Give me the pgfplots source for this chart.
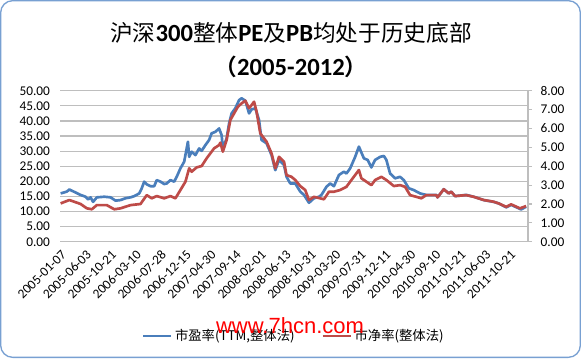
\documentclass[border=0pt]{standalone}
\usepackage{pgfplots}
\usepackage{pgfplotstable}
\pgfplotsset{compat=1.18}
\usepackage{fontspec}
\setmainfont{Carlito}
\newfontfamily\cjk{Noto Sans CJK SC}[BoldFont={Noto Sans CJK SC Bold}]
\newfontfamily\wm{Liberation Sans}
\definecolor{peblue}{RGB}{74,126,187}
\definecolor{pbred}{RGB}{190,75,72}
\definecolor{gridgray}{RGB}{190,190,190}
\definecolor{framec}{RGB}{120,160,210}

\pgfplotstableread{
w pe
0 16.0
5 16.6
7 17.3
16 15.5
20 14.9
22 14.0
24 14.7
26 13.2
29 14.7
35 14.9
40 14.7
44 13.6
48 13.8
52 14.4
56 14.7
59 15.1
63 16.0
65 17.7
67 19.9
69 19.0
72 18.4
75 18.4
77 20.4
80 19.9
83 19.1
85 19.3
88 20.4
91 19.9
93 21.5
96 24.3
99 26.5
102 33.1
103 28.1
105 29.8
108 28.7
111 30.9
113 30.1
116 32.0
119 33.7
121 35.9
124 36.4
127 37.5
129 35.3
130 30.9
133 34.2
135 39.2
137 42.5
140 44.2
143 46.9
145 47.5
148 46.7
151 42.5
153 43.8
156 44.2
159 40.3
161 33.7
165 32.6
169 28.7
172 23.7
175 27.1
179 25.4
181 21.5
184 19.3
188 19.3
192 16.6
195 15.5
199 12.9
203 14.4
207 14.9
209 15.5
213 18.2
216 19.3
219 18.4
223 22.1
227 23.2
229 22.6
232 24.3
236 28.1
239 31.5
243 27.6
246 27.1
249 24.6
252 27.1
256 28.1
259 28.4
261 27.1
264 22.6
268 21.0
272 21.5
275 20.4
279 17.7
283 17.1
288 16.0
293 15.5
301 15.5
302 14.7
307 17.4
311 16.0
313 16.6
316 15.1
325 15.5
331 14.9
339 13.8
347 13.2
351 12.7
357 11.4
361 12.2
369 10.7
373 11.6
}\pedata

\pgfplotstableread{
w pb
0 2.03
7 2.21
16 2.00
21 1.77
25 1.72
29 1.94
37 1.94
43 1.72
48 1.77
56 1.94
64 2.00
69 2.47
73 2.30
77 2.42
83 2.30
88 2.42
92 2.30
96 2.74
100 3.18
103 3.89
105 3.71
109 3.94
113 4.01
117 4.42
123 4.95
127 5.12
128 5.25
130 4.77
133 5.39
136 6.45
139 6.80
142 7.15
145 7.33
148 7.47
151 7.07
153 7.24
155 7.42
157 6.89
160 5.74
165 5.30
169 4.68
172 3.89
175 4.50
179 4.24
181 3.53
185 3.44
188 3.27
192 2.95
196 2.74
199 2.21
203 2.38
208 2.30
211 2.25
215 2.65
219 2.65
224 2.74
229 2.91
233 3.27
239 3.80
241 3.36
245 3.18
249 3.00
252 3.27
257 3.44
261 3.27
267 2.95
272 3.00
276 2.91
280 2.47
285 2.38
289 2.30
293 2.47
301 2.47
302 2.35
307 2.78
311 2.56
313 2.65
316 2.42
325 2.47
331 2.38
339 2.21
347 2.12
351 2.03
357 1.85
361 1.98
368 1.77
373 1.89
}\pbdata

\begin{document}
\begin{tikzpicture}
\draw[framec, line width=1pt, rounded corners=9pt] (0.5pt,0.5pt) rectangle (435.25pt,268pt);
\node[font=\cjk\fontsize{17}{20}\selectfont] at (218.25pt,243.75pt)
  {沪深{\rmfamily\bfseries\fontsize{18.5}{20}\selectfont 300}整体{\rmfamily\bfseries\fontsize{18.5}{20}\selectfont PE}及{\rmfamily\bfseries\fontsize{18.5}{20}\selectfont PB}均处于历史底部};
\node[font=\cjk\bfseries\fontsize{17}{20}\selectfont] at (218.25pt,218pt)
  {（{\rmfamily\bfseries\fontsize{18.5}{20}\selectfont 2005-2012}）};

\begin{axis}[
  at={(45pt,87.2pt)}, anchor=south west,
  scale only axis, width=351pt, height=113.25pt,
  xmin=-0.5, xmax=374.5, ymin=0, ymax=50,
  ytick={0,5,...,50},
  axis x line*=bottom, axis y line*=left,
  y axis line style={draw=none},
  x axis line style={draw=gridgray, line width=0.8pt, -},
  major tick length=0pt,
  ymajorgrids, grid style={gridgray, line width=0.9pt},
  xtick={0,20,...,360},
  xticklabels={2005-01-07,2005-06-03,2005-10-21,2006-03-10,2006-07-28,2006-12-15,2007-04-30,2007-09-14,2008-02-01,2008-06-13,2008-10-31,2009-03-20,2009-07-31,2009-12-11,2010-04-30,2010-09-10,2011-01-21,2011-06-03,2011-10-21},
  xticklabel style={rotate=45, anchor=east, font=\fontsize{10}{12}\selectfont, yshift=-7.5pt, xshift=-0.5pt},
  yticklabel style={font=\fontsize{10}{12}\selectfont, /pgf/number format/.cd, fixed, fixed zerofill, precision=2, assume math mode=true},
  yticklabel shift=4pt,
  legend style={at={(0.5,-0.625)}, anchor=center, draw=none, fill=none,
    font=\cjk\fontsize{10}{12}\selectfont, legend columns=2,
    /tikz/every even column/.append style={column sep=18pt}},
  legend image code/.code={\draw[#1] (0pt,0pt) -- (21pt,0pt);},
]
\addplot[peblue, line width=2pt, line join=round] table[x=w, y=pe] {\pedata};
\addlegendentry{市盈率(TTM,整体法)}
\addlegendimage{pbred, line width=2pt}
\addlegendentry{市净率(整体法)}
\end{axis}

\begin{axis}[
  at={(45pt,87.2pt)}, anchor=south west,
  scale only axis, width=351pt, height=113.25pt,
  xmin=-0.5, xmax=374.5, ymin=0, ymax=8,
  ytick={0,1,...,8},
  axis x line=none, axis y line*=right,
  y axis line style={draw=gridgray, line width=0.8pt, -},
  ytick style={draw=gridgray, line width=0.8pt},
  major tick length=3pt, tick align=outside,
  yticklabel style={font=\fontsize{10}{12}\selectfont, /pgf/number format/.cd, fixed, fixed zerofill, precision=2, assume math mode=true},
  yticklabel shift=3pt,
]
\addplot[pbred, line width=2pt, line join=round] table[x=w, y=pb] {\pbdata};
\end{axis}

\node[font=\wm\fontsize{16.5}{18}\selectfont, text=red] at (217.5pt,24pt) {www.7hcn.com};
\end{tikzpicture}
\end{document}
